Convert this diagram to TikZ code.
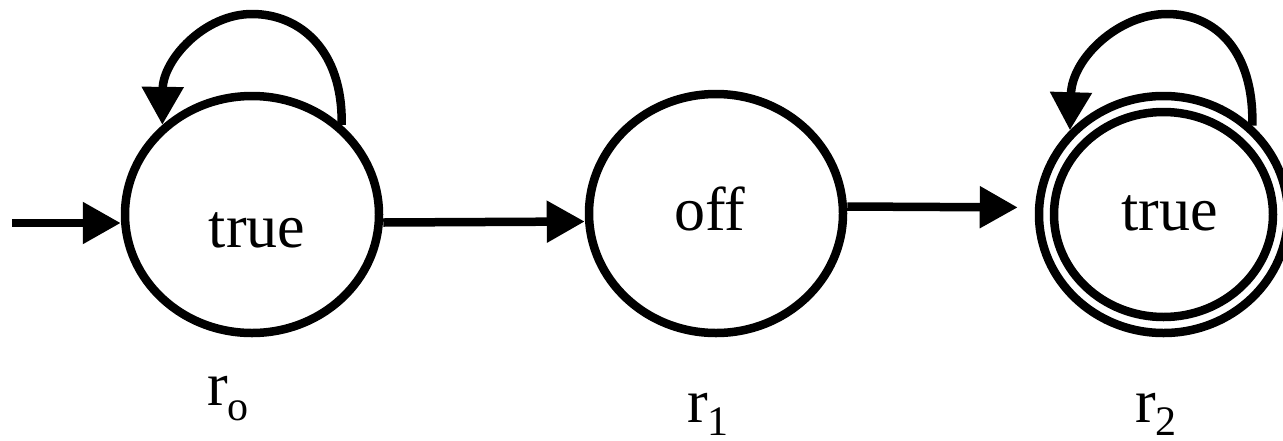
\documentclass[tikz,border=0pt]{standalone}
\usepackage{fontspec}
\setmainfont{Liberation Serif}
\usetikzlibrary{arrows.meta,shapes.geometric}
\begin{document}
\begin{tikzpicture}[x=1pt,y=-1pt,
  state/.style={draw, ellipse, line width=8.5pt, inner sep=0pt, outer sep=4.25pt},
  txt/.style={inner sep=0pt, font=\fontsize{62}{70}\selectfont},
  arr/.style={line width=8.5pt, -{Triangle[length=38pt,width=40pt]}}]
\useasboundingbox (0,0) rectangle (1283,440);
% states
\node[state, minimum width=254pt, minimum height=237pt] (s0) at (252,214.5) {};
\node[state, minimum width=254pt, minimum height=239pt] (s1) at (716,213.5) {};
\node[state, minimum width=249pt, minimum height=237pt] (s2) at (1163.5,214.5) {};
\node[state, minimum width=219pt, minimum height=205pt] (s2i) at (1163.5,214.5) {};
% texts
\node[txt, anchor=base] (t0) at (257,247) {true};
\node[txt, anchor=base] (t1) at (710,230) {off};
\node[txt, anchor=base] (t2) at (1169.5,230) {true};
% labels
\node[txt, anchor=base west] (l0) at (207,405) {r\raisebox{-15pt}{\fontsize{42}{48}\selectfont o}};
\node[txt, anchor=base west] (l1) at (687,422) {r\raisebox{-13pt}{\fontsize{42}{48}\selectfont 1}};
\node[txt, anchor=base west] (l2) at (1135,422) {r\raisebox{-13pt}{\fontsize{42}{48}\selectfont 2}};
% connectors
\coordinate (init) at (12,223);
\draw[arr] (init) -- (init -| s0.west);
\draw[arr] ([yshift=-8pt]s0.east) -- ([yshift=-8pt]s1.west);
\draw[arr, shorten >=17pt] ([yshift=7pt]s1.east) -- ([yshift=7pt]s2.west);
\draw[arr] (s0.45) .. controls (343,50) and (300,14) .. (252,14) .. controls (204,14) and (163,60) .. (s0.135);
\draw[arr] (s2.45) .. controls (1254,50) and (1215,14) .. (1167,14) .. controls (1119,14) and (1072,58) .. (s2.138);
\end{tikzpicture}
\end{document}
